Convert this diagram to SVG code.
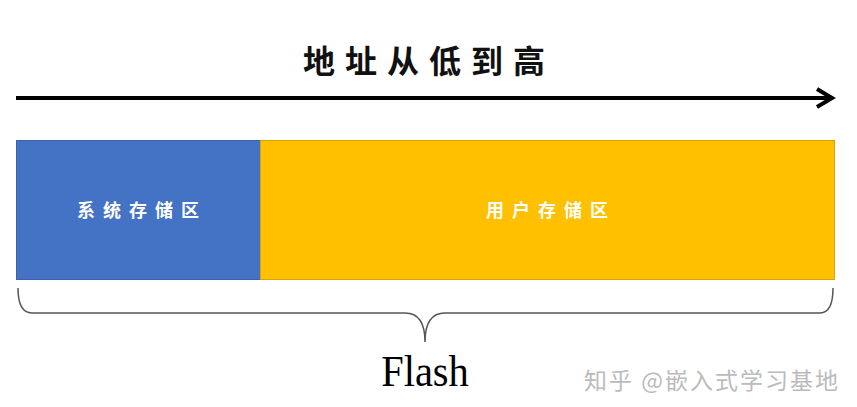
<svg xmlns="http://www.w3.org/2000/svg" width="857" height="407" viewBox="0 0 857 407">
<style>
.cjk{font-family:"Noto Sans CJK SC","Noto Sans CJK JP",sans-serif}
.lbl{fill:#ffffff;font-size:18px;font-weight:bold;text-anchor:middle;letter-spacing:8px}
</style>
<rect width="857" height="407" fill="#ffffff"/>
<g id="title"><text x="429" y="73" class="cjk" font-size="32" font-weight="bold" text-anchor="middle" letter-spacing="10" fill="#111">地址从低到高</text></g>
<g id="connectors">
<line x1="16" y1="98" x2="830" y2="98" stroke="#000" stroke-width="4"/>
<polyline points="817,89 832,98 817,107" fill="none" stroke="#000" stroke-width="4" stroke-linejoin="miter"/>
<path d="M18,288 Q18,313 32,313 L405,313 Q425,313 425,342 Q425,313 445,313 L820,313 Q833,313 833,288" fill="none" stroke="#555" stroke-width="1.5"/>
</g>
<g id="system"><rect x="16.5" y="140.5" width="244" height="139" fill="#4472C4" stroke="#3a62a8" stroke-width="1"/><text x="142" y="217" class="cjk lbl">系统存储区</text></g>
<g id="user"><rect x="260.5" y="140.5" width="574" height="139" fill="#FFC000" stroke="#d9a400" stroke-width="1"/><text x="551" y="217" class="cjk lbl">用户存储区</text></g>
<g id="flash"><text x="425" y="386" font-family="Liberation Serif,serif" font-size="44" text-anchor="middle" fill="#000" transform="translate(425,386) scale(0.92,1) translate(-425,-386)">Flash</text></g>
<text x="840" y="389" class="cjk" font-size="23" text-anchor="end" letter-spacing="2" fill="#bbbbbb">知乎 @嵌入式学习基地</text>
</svg>
